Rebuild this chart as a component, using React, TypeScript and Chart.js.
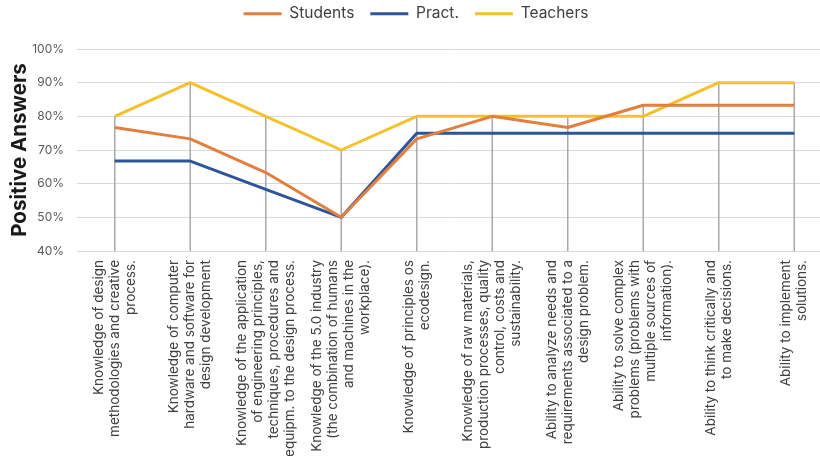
import React, { useEffect, useRef } from "react";
import { Chart, registerables } from "chart.js";

Chart.register(...registerables);

const categories: string[][] = [
  ["Knowledge of design", "methodologies and creative", "process."],
  ["Knowledge of computer", "hardware and software for", "design development"],
  ["Knowledge of the application", "of engineering principles,", "techniques, procedures and", "equipm. to the design process."],
  ["Knowledge of the 5.0 industry", "(the combination of humans", "and machines in the", "workplace)."],
  ["Knowledge of principles os", "ecodesign."],
  ["Knowledge of raw materials,", "production processes, quality", "control, costs and", "sustainability."],
  ["Ability to analyze needs and", "requirements associated to a", "design problem."],
  ["Ability to solve complex", "problems (problems with", "multiple sources of", "information)."],
  ["Ability to think critically and", "to make decisions."],
  ["Ability to implement", "solutions."],
];

const students = [76.7, 73.3, 63.3, 50, 73.3, 80, 76.7, 83.3, 83.3, 83.3];
const pract = [66.7, 66.7, 58.3, 50, 75, 75, 75, 75, 75, 75];
const teachers = [80, 90, 80, 70, 80, 80, 80, 80, 90, 90];

const yMin = 40;
const yMax = 100;
const yStep = 10;

const seriesNames = ["Students", "Pract.", "Teachers"];
const seriesColors = ["#E27F3E", "#2D5597", "#F5C12A"];

const FONT = "Inter, 'Open Sans', sans-serif";
const LABEL_SIZE = 13.5;
const LABEL_LINE = 16;

const dropLines = {
  id: "dropLines",
  beforeDatasetsDraw(chart: any) {
    const { ctx, scales } = chart;
    const xs = scales.x;
    const ys = scales.y;
    const n = chart.data.labels.length;
    ctx.save();
    ctx.strokeStyle = "#A9A9A9";
    ctx.lineWidth = 1.5;
    for (let i = 0; i < n; i++) {
      let top = -Infinity;
      chart.data.datasets.forEach((ds: any) => {
        if (ds.data[i] > top) top = ds.data[i];
      });
      const x = xs.getPixelForValue(i);
      ctx.beginPath();
      ctx.moveTo(x, ys.getPixelForValue(top));
      ctx.lineTo(x, ys.bottom);
      ctx.stroke();
    }
    ctx.restore();
  },
};

// multi-line vertical category labels, centred on each category of the x scale
const centredLabels = {
  id: "centredLabels",
  afterDraw(chart: any) {
    const { ctx, scales } = chart;
    const xs = scales.x;
    const labels = chart.data.labels as string[][];
    ctx.save();
    ctx.fillStyle = "#404040";
    ctx.font = `${LABEL_SIZE}px ${FONT}`;
    ctx.textAlign = "right";
    ctx.textBaseline = "middle";
    labels.forEach((lines, i) => {
      const x = xs.getPixelForValue(i);
      const k = lines.length;
      lines.forEach((line, j) => {
        const lx = x + (j - (k - 1) / 2) * LABEL_LINE;
        ctx.save();
        ctx.translate(lx, xs.top + 9);
        ctx.rotate(-Math.PI / 2);
        ctx.fillText(line, 0, 0);
        ctx.restore();
      });
    });
    ctx.restore();
  },
};

const legendSpacing = {
  id: "legendSpacing",
  beforeInit(chart: any) {
    const legend = chart.legend;
    if (!legend) return;
    const fit = legend.fit;
    legend.fit = function () {
      fit.call(this);
      this.height += 17.5;
    };
  },
};

export default function App() {
  const ref = useRef<HTMLCanvasElement | null>(null);

  useEffect(() => {
    if (!ref.current) return;
    const data = [students, pract, teachers];
    const chart = new Chart(ref.current, {
      type: "line",
      data: {
        labels: categories,
        datasets: data.map((d, i) => ({
          label: seriesNames[i],
          data: d,
          borderColor: seriesColors[i],
          backgroundColor: seriesColors[i],
          borderWidth: 3,
          pointRadius: 0,
          pointHoverRadius: 0,
          tension: 0,
          borderJoinStyle: "round" as const,
          fill: false,
        })),
      },
      options: {
        responsive: false,
        animation: false,
        devicePixelRatio: 1,
        layout: { padding: { left: 0, right: 0, top: -10, bottom: 0 } },
        plugins: {
          tooltip: { enabled: false },
          legend: {
            position: "top",
            labels: {
              boxWidth: 38,
              boxHeight: 3,
              padding: 16,
              color: "#404040",
              font: { family: FONT, size: 15.5 },
              generateLabels: (c: any) =>
                Chart.defaults.plugins.legend.labels
                  .generateLabels(c)
                  .map((l: any) => ({ ...l, lineWidth: 0, fillStyle: l.strokeStyle })),
            },
          },
        },
        scales: {
          x: {
            offset: true,
            grid: { display: false, drawTicks: false },
            border: { display: false },
            ticks: { display: false, autoSkip: false },
            afterFit(scale: any) {
              scale.height = 205;
            },
          },
          y: {
            min: yMin,
            max: yMax,
            afterFit(scale: any) {
              scale.width = 77;
            },
            ticks: {
              stepSize: yStep,
              padding: 13,
              color: "#595959",
              font: { family: FONT, size: 12 },
              callback: (v: any) => v + "%",
            },
            grid: { color: "#D9D9D9", lineWidth: 1, drawTicks: false },
            border: { display: false },
            title: {
              display: true,
              text: "Positive Answers",
              color: "#1A1A1A",
              font: { family: FONT, size: 20.5, weight: "bold" },
              padding: { top: 8, bottom: 0 },
            },
          },
        },
      },
      plugins: [dropLines, centredLabels, legendSpacing],
    });
    return () => chart.destroy();
  }, []);

  return (
    <div
      style={{
        position: "fixed",
        left: 0,
        top: 0,
        width: 820,
        height: 456,
        overflow: "hidden",
        background: "#ffffff",
      }}
    >
      <canvas ref={ref} width={832} height={456} style={{ display: "block" }} />
    </div>
  );
}
